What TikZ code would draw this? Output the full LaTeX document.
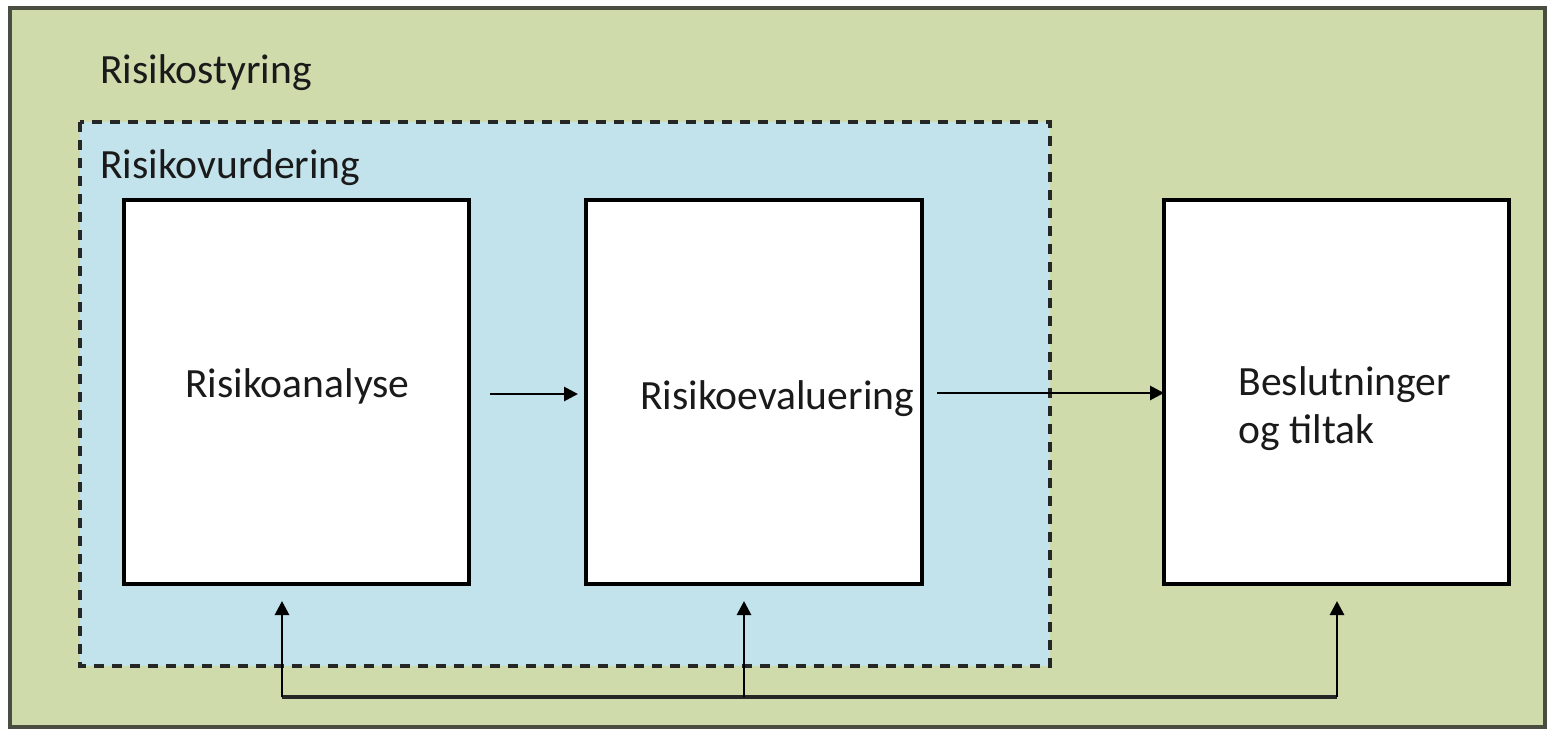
\documentclass[tikz,border=0pt]{standalone}
\usepackage{fontspec}
\setmainfont{Carlito}
\usetikzlibrary{arrows.meta}
\definecolor{outerfill}{HTML}{CFDBAB}
\definecolor{innerfill}{HTML}{C2E3EC}
\definecolor{outerline}{HTML}{4A4E42}
\definecolor{txt}{HTML}{1A1A1A}
\begin{document}
\begin{tikzpicture}[x=0.5pt,y=-0.5pt,
  lbl/.style={inner sep=0pt,anchor=base west,text=txt,font=\fontsize{20.8pt}{25pt}\selectfont},
  whitebox/.style={draw=black,fill=white,line width=1.6pt},
  conn/.style={line width=1.4pt,black,-{Triangle[length=7pt,width=7pt]}},
  plainline/.style={line width=1.6pt,black!85}]
\useasboundingbox (0,0) rectangle (1547,728);
% outer area
\draw[fill=outerfill,draw=outerline,line width=1.6pt] (10,8) rectangle (1545,727);
\node[lbl] (styring) at (100,83) {Risikostyring};
% dashed inner area
\draw[fill=innerfill,draw=black!85,line width=1.7pt,dash pattern=on 5pt off 4pt] (80,122) rectangle (1050,666);
\node[lbl] (vurdering) at (100,178) {Risikovurdering};
% boxes
\draw[whitebox] (124,200) rectangle (469,584);
\draw[whitebox] (586,200) rectangle (922,584);
\draw[whitebox] (1164,200) rectangle (1509,584);
\node[lbl] (analyse) at (185,397) {Risikoanalyse};
\node[lbl] (evaluering) at (640,409) {Risikoevaluering};
\node[lbl,align=left,anchor=north west] (beslutning) at (1238,366) {Beslutninger\\[-1pt]og tiltak};
% arrows
\coordinate (a1s) at (490,394);
\coordinate (a1e) at (578,394);
\coordinate (a2s) at (937,393);
\coordinate (a2e) at (1164,393);
\draw[conn] (a1s) -- (a1e);
\draw[conn] (a2s) -- (a2e);
% feedback
\coordinate (f1) at (282,697);
\coordinate (f2) at (744,697);
\coordinate (f3) at (1337,697);
\coordinate (t1) at (282,601);
\coordinate (t2) at (744,601);
\coordinate (t3) at (1337,601);
\draw[plainline] (f1) -- (f3);
\draw[conn] (f1) -- (t1);
\draw[conn] (f2) -- (t2);
\draw[conn] (f3) -- (t3);
\end{tikzpicture}
\end{document}
